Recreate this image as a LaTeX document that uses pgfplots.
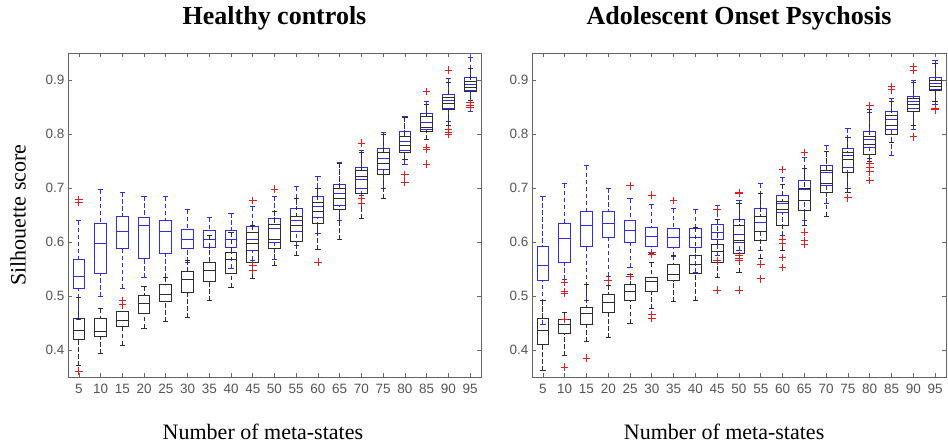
\documentclass[border=0pt]{standalone}
\usepackage{fontspec}
\setmainfont{Liberation Serif}
\newfontfamily\ticksans{Liberation Sans}
\usepackage{pgfplots}
\pgfplotsset{compat=1.18}
\usepgfplotslibrary{statistics}

\definecolor{bxblue}{RGB}{45,45,225}
\definecolor{bxblack}{RGB}{45,45,45}
\definecolor{outred}{RGB}{225,30,30}
\definecolor{framegray}{RGB}{100,100,100}
\definecolor{ticktext}{RGB}{85,85,85}

% one box: colour, position, lower whisker, lower quartile, median, upper quartile, upper whisker, outliers
\newcommand\bx[8]{%
  \addplot[#1, boxplot prepared={draw position=#2, lower whisker=#3,
    lower quartile=#4, median=#5, upper quartile=#6, upper whisker=#7}]
    coordinates {#8};}

\pgfplotsset{
  meta/.style={
    width=413pt, height=324pt, scale only axis,
    xmin=2.5, xmax=97.5, ymin=0.35, ymax=0.95,
    xtick={5,10,...,95}, ytick={0.4,0.5,0.6,0.7,0.8,0.9},
    tick align=inside, tick pos=both, major tick length=4pt,
    axis line style={framegray, line width=0.7pt},
    tick style={framegray, line width=0.7pt},
    /pgf/number format/assume math mode=true,
    ticklabel style={font=\ticksans\fontsize{13.5}{15}\selectfont, text=ticktext},
    yticklabel style={/pgf/number format/fixed, /pgf/number format/fixed zerofill,
      /pgf/number format/precision=1},
    xticklabel style={yshift=-4pt},
    title style={font=\bfseries\fontsize{26}{28}\selectfont, at={(0.5,1)}, anchor=base, yshift=23pt},
    xlabel style={font=\fontsize{22}{24}\selectfont, anchor=center, yshift=-55pt},
    ylabel style={font=\fontsize{22}{24}\selectfont, anchor=center},
    boxplot/draw direction=y,
    boxplot/box extend=2.7,
    boxplot/whisker extend=1.2,
    boxplot/draw/lower whisker/.code={
      \draw[dash pattern=on 4.5pt off 2.5pt]
        (boxplot box cs:\pgfplotsboxplotvalue{lower whisker},0.5) --
        (boxplot box cs:\pgfplotsboxplotvalue{lower quartile},0.5);
      \draw (boxplot whisker cs:\pgfplotsboxplotvalue{lower whisker},0) --
        (boxplot whisker cs:\pgfplotsboxplotvalue{lower whisker},1);
    },
    boxplot/draw/upper whisker/.code={
      \draw[dash pattern=on 4.5pt off 2.5pt]
        (boxplot box cs:\pgfplotsboxplotvalue{upper whisker},0.5) --
        (boxplot box cs:\pgfplotsboxplotvalue{upper quartile},0.5);
      \draw (boxplot whisker cs:\pgfplotsboxplotvalue{upper whisker},0) --
        (boxplot whisker cs:\pgfplotsboxplotvalue{upper whisker},1);
    },
    every axis plot/.append style={line width=0.95pt, mark=+, mark size=3.8pt,
      mark options={outred, solid, line width=0.9pt}},
  }
}

\begin{document}
\begin{tikzpicture}
\path[use as bounding box] (0,0) rectangle (948pt,445pt);

% ---------------- Healthy controls ----------------
\begin{axis}[meta, at={(68pt,68pt)}, anchor=south west,
  title={Healthy controls},
  xlabel={Number of meta-states},
  xlabel style={at={(axis description cs:0.472,0)}},
  ylabel={Silhouette score},
  ylabel style={at={(axis description cs:-0.121,0.5)}}]
\bx{bxblue}{5}{0.457}{0.514}{0.536}{0.567}{0.639}{(5,0.678)(5,0.673)}
\bx{bxblue}{10}{0.499}{0.541}{0.597}{0.634}{0.697}{}
\bx{bxblue}{15}{0.514}{0.588}{0.620}{0.648}{0.692}{(15,0.491)(15,0.485)}
\bx{bxblue}{20}{0.534}{0.570}{0.631}{0.645}{0.685}{}
\bx{bxblue}{25}{0.534}{0.579}{0.619}{0.639}{0.684}{}
\bx{bxblue}{30}{0.563}{0.588}{0.605}{0.623}{0.660}{}
\bx{bxblue}{35}{0.563}{0.589}{0.605}{0.621}{0.645}{}
\bx{bxblue}{40}{0.551}{0.589}{0.605}{0.622}{0.653}{}
\bx{bxblue}{45}{0.566}{0.585}{0.605}{0.629}{0.665}{(45,0.677)(45,0.557)(45,0.548)}
\bx{bxblue}{50}{0.567}{0.600}{0.625}{0.643}{0.685}{(50,0.698)}
\bx{bxblue}{55}{0.594}{0.620}{0.639}{0.663}{0.702}{}
\bx{bxblue}{60}{0.616}{0.645}{0.666}{0.685}{0.722}{}
\bx{bxblue}{65}{0.639}{0.668}{0.690}{0.706}{0.748}{}
\bx{bxblue}{70}{0.686}{0.700}{0.715}{0.738}{0.770}{(70,0.783)(70,0.680)(70,0.672)}
\bx{bxblue}{75}{0.700}{0.735}{0.755}{0.773}{0.803}{}
\bx{bxblue}{80}{0.744}{0.770}{0.787}{0.804}{0.833}{}
\bx{bxblue}{85}{0.789}{0.808}{0.822}{0.838}{0.861}{(85,0.879)}
\bx{bxblue}{90}{0.824}{0.848}{0.862}{0.873}{0.902}{(90,0.918)}
\bx{bxblue}{95}{0.842}{0.880}{0.892}{0.904}{0.941}{}

\bx{bxblack}{5}{0.371}{0.420}{0.436}{0.458}{0.497}{(5,0.361)}
\bx{bxblack}{10}{0.393}{0.425}{0.434}{0.458}{0.476}{}
\bx{bxblack}{15}{0.409}{0.444}{0.454}{0.471}{0.485}{}
\bx{bxblack}{20}{0.440}{0.468}{0.486}{0.501}{0.518}{}
\bx{bxblack}{25}{0.452}{0.490}{0.503}{0.521}{0.534}{}
\bx{bxblack}{30}{0.460}{0.506}{0.530}{0.546}{0.566}{}
\bx{bxblack}{35}{0.491}{0.527}{0.548}{0.563}{0.612}{}
\bx{bxblack}{40}{0.516}{0.541}{0.568}{0.580}{0.617}{}
\bx{bxblack}{45}{0.532}{0.563}{0.597}{0.618}{0.630}{}
\bx{bxblack}{50}{0.556}{0.588}{0.605}{0.632}{0.657}{}
\bx{bxblack}{55}{0.575}{0.601}{0.631}{0.648}{0.680}{}
\bx{bxblack}{60}{0.586}{0.634}{0.657}{0.674}{0.700}{(60,0.563)}
\bx{bxblack}{65}{0.604}{0.660}{0.680}{0.700}{0.745}{}
\bx{bxblack}{70}{0.643}{0.690}{0.722}{0.733}{0.765}{}
\bx{bxblack}{75}{0.680}{0.725}{0.746}{0.765}{0.800}{}
\bx{bxblack}{80}{0.752}{0.765}{0.778}{0.795}{0.830}{(80,0.725)(80,0.711)}
\bx{bxblack}{85}{0.790}{0.804}{0.813}{0.832}{0.855}{(85,0.775)(85,0.771)(85,0.744)}
\bx{bxblack}{90}{0.815}{0.845}{0.856}{0.868}{0.895}{(90,0.808)(90,0.803)(90,0.799)}
\bx{bxblack}{95}{0.862}{0.878}{0.887}{0.898}{0.922}{(95,0.858)(95,0.853)(95,0.849)}
\end{axis}

% ---------------- Adolescent onset psychosis ----------------
\begin{axis}[meta, at={(532pt,68pt)}, anchor=south west, width=414pt,
  title={Adolescent Onset Psychosis},
  xlabel={Number of meta-states},
  xlabel style={at={(axis description cs:0.464,0)}}]
\bx{bxblue}{5}{0.448}{0.528}{0.557}{0.592}{0.685}{}
\bx{bxblue}{10}{0.530}{0.563}{0.606}{0.634}{0.708}{(10,0.526)(10,0.508)(10,0.505)(10,0.457)}
\bx{bxblue}{15}{0.492}{0.591}{0.631}{0.657}{0.741}{}
\bx{bxblue}{20}{0.537}{0.608}{0.634}{0.657}{0.700}{(20,0.528)}
\bx{bxblue}{25}{0.553}{0.600}{0.622}{0.640}{0.680}{(25,0.704)(25,0.536)}
\bx{bxblue}{30}{0.578}{0.591}{0.611}{0.626}{0.669}{(30,0.687)(30,0.580)(30,0.577)}
\bx{bxblue}{35}{0.574}{0.589}{0.608}{0.625}{0.662}{(35,0.677)}
\bx{bxblue}{40}{0.543}{0.589}{0.609}{0.625}{0.660}{}
\bx{bxblue}{45}{0.575}{0.605}{0.618}{0.632}{0.668}{(45,0.565)}
\bx{bxblue}{50}{0.585}{0.600}{0.614}{0.642}{0.677}{(50,0.692)(50,0.575)(50,0.570)}
\bx{bxblue}{55}{0.585}{0.620}{0.637}{0.663}{0.708}{}
\bx{bxblue}{60}{0.612}{0.654}{0.672}{0.686}{0.720}{(60,0.734)}
\bx{bxblue}{65}{0.639}{0.676}{0.697}{0.714}{0.756}{(65,0.766)(65,0.618)}
\bx{bxblue}{70}{0.671}{0.705}{0.728}{0.741}{0.778}{}
\bx{bxblue}{75}{0.700}{0.738}{0.760}{0.774}{0.811}{}
\bx{bxblue}{80}{0.755}{0.775}{0.790}{0.805}{0.840}{(80,0.852)}
\bx{bxblue}{85}{0.760}{0.808}{0.826}{0.842}{0.866}{(85,0.888)(85,0.882)}
\bx{bxblue}{90}{0.808}{0.848}{0.860}{0.870}{0.900}{(90,0.925)(90,0.918)}
\bx{bxblue}{95}{0.855}{0.882}{0.894}{0.905}{0.936}{(95,0.845)}

\bx{bxblack}{5}{0.362}{0.411}{0.436}{0.458}{0.491}{}
\bx{bxblack}{10}{0.389}{0.430}{0.447}{0.457}{0.470}{(10,0.368)}
\bx{bxblack}{15}{0.415}{0.448}{0.468}{0.479}{0.522}{(15,0.385)}
\bx{bxblack}{20}{0.423}{0.470}{0.488}{0.502}{0.520}{}
\bx{bxblack}{25}{0.450}{0.491}{0.509}{0.521}{0.540}{}
\bx{bxblack}{30}{0.476}{0.508}{0.526}{0.534}{0.562}{(30,0.466)(30,0.458)}
\bx{bxblack}{35}{0.489}{0.528}{0.540}{0.559}{0.575}{}
\bx{bxblack}{40}{0.491}{0.542}{0.559}{0.575}{0.626}{}
\bx{bxblack}{45}{0.534}{0.563}{0.582}{0.596}{0.642}{(45,0.660)(45,0.511)}
\bx{bxblack}{50}{0.544}{0.579}{0.602}{0.630}{0.672}{(50,0.690)(50,0.566)(50,0.511)}
\bx{bxblack}{55}{0.570}{0.603}{0.620}{0.648}{0.690}{(55,0.559)(55,0.532)}
\bx{bxblack}{60}{0.585}{0.631}{0.660}{0.675}{0.706}{(60,0.605)(60,0.598)(60,0.571)(60,0.553)}
\bx{bxblack}{65}{0.630}{0.659}{0.676}{0.700}{0.737}{(65,0.602)(65,0.596)}
\bx{bxblack}{70}{0.648}{0.692}{0.708}{0.732}{0.768}{}
\bx{bxblack}{75}{0.691}{0.728}{0.752}{0.765}{0.794}{(75,0.682)}
\bx{bxblack}{80}{0.750}{0.763}{0.780}{0.795}{0.845}{(80,0.745)(80,0.738)(80,0.730)(80,0.714)}
\bx{bxblack}{85}{0.785}{0.800}{0.815}{0.835}{0.860}{}
\bx{bxblack}{90}{0.815}{0.842}{0.854}{0.866}{0.895}{(90,0.795)}
\bx{bxblack}{95}{0.860}{0.880}{0.888}{0.900}{0.930}{(95,0.847)}
\end{axis}
\end{tikzpicture}
\end{document}
